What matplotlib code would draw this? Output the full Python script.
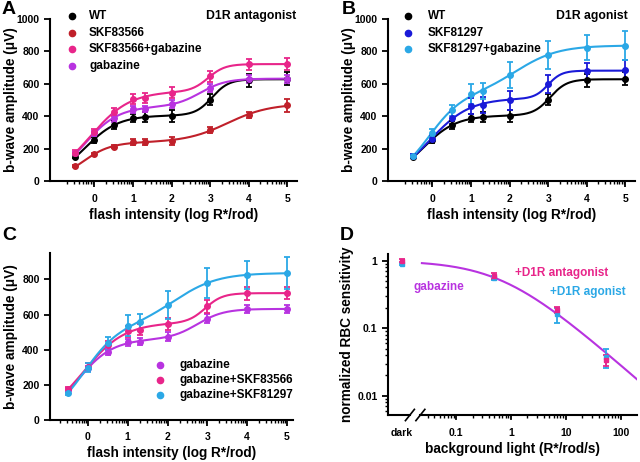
import numpy as np
import matplotlib
matplotlib.use('Agg')
import matplotlib.pyplot as plt
from matplotlib.lines import Line2D
from matplotlib.ticker import FixedLocator, NullFormatter

plt.rcParams['font.family'] = ['Liberation Sans', 'DejaVu Sans']
plt.rcParams['font.weight'] = 'bold'
plt.rcParams['axes.labelweight'] = 'bold'

# flash intensities (log R*/rod)
flash = [-0.5, 0, 0.5, 1, 1.3, 2, 3, 4, 5]

# b-wave amplitudes (uV) and SEM
wt = [150, 252, 346, 391, 393, 401, 502, 622, 632]
wt_err = [10, 20, 25, 25, 30, 35, 35, 40, 38]
skf83566 = [93, 165, 212, 241, 241, 245, 316, 407, 467]
skf83566_err = [8, 10, 10, 20, 20, 25, 20, 20, 40]
skf83566_gbz = [175, 302, 425, 504, 514, 545, 646, 720, 722]
skf83566_gbz_err = [15, 20, 25, 30, 30, 35, 35, 35, 35]
gabazine = [170, 294, 387, 442, 446, 473, 576, 630, 630]
gabazine_err = [12, 15, 20, 20, 20, 25, 25, 22, 22]
skf81297 = [154, 262, 389, 461, 467, 498, 598, 676, 684]
skf81297_err = [10, 20, 40, 50, 50, 60, 55, 55, 60]
skf81297_gbz = [152, 297, 436, 537, 555, 656, 779, 824, 836]
skf81297_gbz_err = [10, 25, 35, 60, 50, 80, 85, 80, 90]

# panel D: background light (R*/rod/s), "dark" drawn at its own spot
bg_light = [0.5, 7, 55]
sens_antag = [1.0, 0.59, 0.185, 0.034]
sens_antag_err = [0.05, 0.06, 0.02, 0.006]
sens_agon = [0.9, 0.55, 0.16, 0.038]
sens_agon_err = [0.03, 0.04, 0.04, 0.012]
# gabazine fit (Hill-type desensitization): half-desensitizing light, slope
gbz_i_half = 0.69
gbz_slope = 0.71

c_wt = 'black'
c_red = '#C0202A'
c_pink = '#E8258A'
c_purple = '#B833E0'
c_blue = '#1A1AD8'
c_lblue = '#2BA8E6'

TICK_FS = 7.5
LAB_FS = 9.8
LEG_FS = 8.5

fig = plt.figure(figsize=(6.4, 4.62), dpi=100)
W, H = 640, 462


def add_ax(l, t, r, b):
    ax = fig.add_axes([l / W, 1 - b / H, (r - l) / W, (b - t) / H])
    ax._px = (l, t, r, b)
    return ax


def place_labels(ax, ylab_right, xlab_top):
    # pin axis labels at pixel positions of the reference
    l, t, r, b = ax._px
    ax.yaxis.set_label_coords((ylab_right - l) / (r - l), 0.5)
    ax.xaxis.set_label_coords(0.5, -(xlab_top - b) / (b - t))


def two_site_fit(x, y):
    # least-squares fit of two Hill components, amplitudes solved linearly
    x = np.asarray(x, float)
    y = np.asarray(y, float)
    k1 = np.arange(-1.5, 1.01, 0.05)
    n1 = np.array([0.7, 0.85, 1.0, 1.2, 1.5])
    k2 = np.arange(1.5, 5.01, 0.05)
    n2 = np.array([0.8, 1.0, 1.3, 1.6, 2.0, 2.5])
    K1, N1 = [a.ravel() for a in np.meshgrid(k1, n1)]
    K2, N2 = [a.ravel() for a in np.meshgrid(k2, n2)]
    h1 = 1 / (1 + 10 ** (N1[:, None] * (K1[:, None] - x[None, :])))
    h2 = 1 / (1 + 10 ** (N2[:, None] * (K2[:, None] - x[None, :])))
    a11 = (h1 ** 2).sum(1)[:, None]
    a22 = (h2 ** 2).sum(1)[None, :]
    a12 = h1 @ h2.T
    b1 = (h1 @ y)[:, None]
    b2 = (h2 @ y)[None, :]
    det = a11 * a22 - a12 ** 2
    with np.errstate(divide='ignore', invalid='ignore'):
        A1 = (b1 * a22 - b2 * a12) / det
        A2 = (b2 * a11 - b1 * a12) / det
    res = y @ y - 2 * (A1 * b1 + A2 * b2) + A1 ** 2 * a11 + 2 * A1 * A2 * a12 + A2 ** 2 * a22
    res[(A1 < 0) | (A2 < 0) | ~np.isfinite(res)] = np.inf
    i, j = np.unravel_index(np.argmin(res), res.shape)
    xs = np.linspace(x.min(), x.max(), 200)
    ys = A1[i, j] / (1 + 10 ** (N1[i] * (K1[i] - xs))) + A2[i, j] / (1 + 10 ** (N2[j] * (K2[j] - xs)))
    return xs, ys


def flash_axes(ax, xlim, ylim, yticks):
    ax.set_xlim(*xlim)
    ax.set_ylim(*ylim)
    ax.set_xticks([0, 1, 2, 3, 4, 5])
    minors = [d + np.log10(k) for d in range(-1, 6) for k in range(2, 10)]
    minors = [m for m in minors if xlim[0] < m < xlim[1]]
    ax.xaxis.set_minor_locator(FixedLocator(minors))
    ax.set_yticks(yticks)
    for s in ['top', 'right']:
        ax.spines[s].set_visible(False)
    for s in ['left', 'bottom']:
        ax.spines[s].set_linewidth(1.5)
    ax.tick_params(which='major', direction='out', length=4, width=1.3, labelsize=TICK_FS)
    ax.tick_params(axis='x', which='major', pad=5)
    ax.tick_params(which='minor', direction='out', length=2, width=1.0)
    ax.set_xlabel('flash intensity (log R*/rod)', fontsize=LAB_FS)
    ax.set_ylabel('b-wave amplitude (\u03bcV)', fontsize=LAB_FS)


def series(ax, y, err, color):
    xs, ys = two_site_fit(flash, y)
    ax.plot(xs, ys, color=color, lw=1.5, zorder=2)
    ax.errorbar(flash, y, yerr=err, fmt='o', color=color, ms=4, elinewidth=1.3,
                capsize=2, capthick=1.3, zorder=3)


def legend_rows(xm, xt, y0, dy, items):
    for i, (lab, c) in enumerate(items):
        yy = 1 - (y0 + i * dy) / H
        fig.add_artist(Line2D([xm / W], [yy], marker='o', ms=4.5, color=c, lw=0))
        fig.text(xt / W, yy, lab, fontsize=LEG_FS, va='center')


# ---- A ----
axA = add_ax(50, 19, 297, 181)
flash_axes(axA, (-1.15, 5.25), (0, 1000), [0, 200, 400, 600, 800, 1000])
place_labels(axA, 18, 208)
for y, e, c in [(skf83566, skf83566_err, c_red), (wt, wt_err, c_wt),
                (gabazine, gabazine_err, c_purple), (skf83566_gbz, skf83566_gbz_err, c_pink)]:
    series(axA, y, e, c)
legend_rows(72, 89, 16, 16.5, [('WT', c_wt), ('SKF83566', c_red),
                               ('SKF83566+gabazine', c_pink), ('gabazine', c_purple)])
fig.text(296 / W, 1 - 16 / H, 'D1R antagonist', fontsize=8.8, ha='right', va='center')

# ---- B ----
axB = add_ax(388, 19, 635, 181)
flash_axes(axB, (-1.15, 5.25), (0, 1000), [0, 200, 400, 600, 800, 1000])
place_labels(axB, 356, 208)
for y, e, c in [(wt, wt_err, c_wt), (skf81297, skf81297_err, c_blue),
                (skf81297_gbz, skf81297_gbz_err, c_lblue)]:
    series(axB, y, e, c)
legend_rows(408, 428, 16, 16.5, [('WT', c_wt), ('SKF81297', c_blue),
                                 ('SKF81297+gabazine', c_lblue)])
fig.text(628 / W, 1 - 16 / H, 'D1R agonist', fontsize=8.8, ha='right', va='center')

# ---- C ----
axC = add_ax(50, 253, 293, 420)
flash_axes(axC, (-0.95, 5.15), (0, 950), [0, 200, 400, 600, 800])
place_labels(axC, 18, 446)
for y, e, c in [(gabazine, gabazine_err, c_purple), (skf83566_gbz, skf83566_gbz_err, c_pink),
                (skf81297_gbz, skf81297_gbz_err, c_lblue)]:
    series(axC, y, e, c)
legend_rows(160, 179, 365, 15, [('gabazine', c_purple), ('gabazine+SKF83566', c_pink),
                                ('gabazine+SKF81297', c_lblue)])

# ---- D ----
axD = add_ax(388, 254, 637, 415)
axD.set_xscale('log')
axD.set_yscale('log')
axD.set_xlim(0.0057, 200)
axD.set_ylim(0.0052, 1.25)
dark_x = 0.0102
xs = np.logspace(np.log10(0.0237), np.log10(200), 200)
axD.plot(xs, 1 / (1 + (xs / gbz_i_half) ** gbz_slope), color=c_purple, lw=1.5, zorder=2)
for y, e, c in [(sens_agon, sens_agon_err, c_lblue), (sens_antag, sens_antag_err, c_pink)]:
    axD.errorbar([dark_x] + bg_light, y, yerr=e, fmt='s', color=c, ms=3.5,
                 elinewidth=1.3, capsize=2, capthick=1.3, zorder=3)
axD.set_xticks([dark_x, 0.1, 1, 10, 100])
axD.set_xticklabels(['dark', '0.1', '1', '10', '100'])
axD.xaxis.set_minor_locator(FixedLocator([k * 10.0 ** d for d in range(-2, 3) for k in range(2, 10)
                                          if 0.025 < k * 10.0 ** d < 200]))
axD.xaxis.set_minor_formatter(NullFormatter())
axD.set_yticks([0.01, 0.1, 1])
axD.set_yticklabels(['0.01', '0.1', '1'])
axD.yaxis.set_minor_locator(FixedLocator([k * 10.0 ** d for d in range(-3, 1) for k in range(2, 10)
                                          if 0.0052 < k * 10.0 ** d < 1.25]))
axD.yaxis.set_minor_formatter(NullFormatter())
for s in ['top', 'right', 'bottom']:
    axD.spines[s].set_visible(False)
axD.spines['left'].set_linewidth(1.5)
axD.tick_params(which='major', direction='out', length=4, width=1.3, labelsize=TICK_FS)
axD.tick_params(which='minor', direction='out', length=2, width=1.0)
axD.tick_params(axis='x', which='major', length=0, pad=9)
for t in [0.1, 1, 10, 100]:
    axD.plot([t, t], [0, -0.025], transform=axD.get_xaxis_transform(), color='black',
             lw=1.3, clip_on=False)
# broken bottom axis
b1, b2 = 0.088, 0.13
axD.plot([0, b1], [0, 0], transform=axD.transAxes, color='black', lw=1.5, clip_on=False)
axD.plot([b2, 1], [0, 0], transform=axD.transAxes, color='black', lw=1.5, clip_on=False)
for bx in [b1, b2]:
    axD.plot([bx - 0.018, bx + 0.018], [-0.035, 0.035], transform=axD.transAxes,
             color='black', lw=1.2, clip_on=False)
axD.set_xlabel('background light (R*/rod/s)', fontsize=LAB_FS)
axD.set_ylabel('normalized RBC sensitivity', fontsize=LAB_FS)
place_labels(axD, 354, 442)
fig.text(414 / W, 1 - 287 / H, 'gabazine', color=c_purple, fontsize=LEG_FS, va='center')
fig.text(515 / W, 1 - 273 / H, '+D1R antagonist', color=c_pink, fontsize=LEG_FS, va='center')
fig.text(550 / W, 1 - 292 / H, '+D1R agonist', color=c_lblue, fontsize=LEG_FS, va='center')

# panel letters
for lab, x, y in [('A', 2, 9), ('B', 342, 9), ('C', 2, 236), ('D', 340, 236)]:
    fig.text(x / W, 1 - y / H, lab, fontsize=14, va='center')

fig.savefig('out.png', dpi=100)
